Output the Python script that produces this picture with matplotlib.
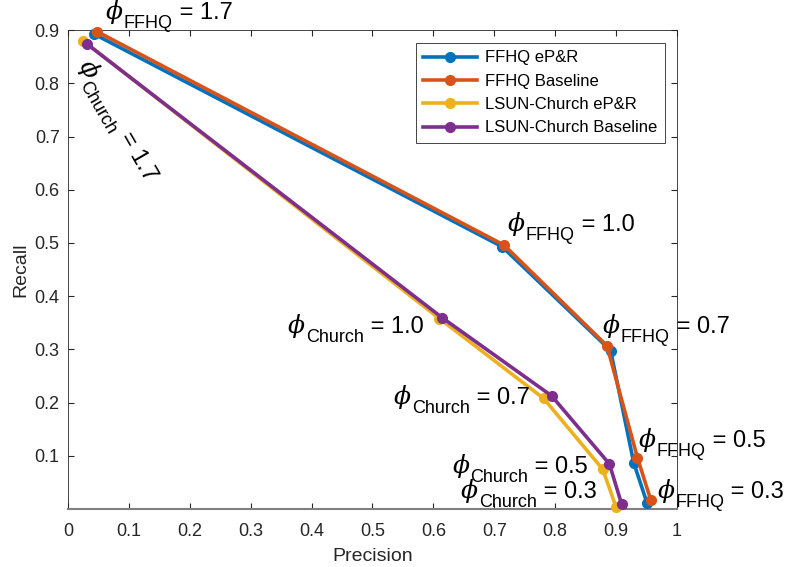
import math
import matplotlib
matplotlib.use("Agg")
import matplotlib.pyplot as plt

# precision / recall pairs for phi = 1.7, 1.0, 0.7, 0.5, 0.3
phis = ["1.7", "1.0", "0.7", "0.5", "0.3"]
ffhq_epr_p = [0.042, 0.713, 0.891, 0.929, 0.951]
ffhq_epr_r = [0.893, 0.493, 0.298, 0.087, 0.011]
ffhq_base_p = [0.048, 0.716, 0.885, 0.935, 0.957]
ffhq_base_r = [0.897, 0.496, 0.307, 0.097, 0.017]
church_epr_p = [0.025, 0.610, 0.781, 0.878, 0.900]
church_epr_r = [0.880, 0.358, 0.208, 0.075, 0.004]
church_base_p = [0.032, 0.614, 0.794, 0.889, 0.909]
church_base_r = [0.873, 0.360, 0.213, 0.085, 0.010]

labels = ["FFHQ eP&R", "FFHQ Baseline", "LSUN-Church eP&R", "LSUN-Church Baseline"]
colors = ["#0072BD", "#D95319", "#EDB120", "#7E2F8E"]

plt.rcParams["font.family"] = ["Liberation Sans", "DejaVu Sans"]
plt.rcParams["mathtext.fontset"] = "custom"
plt.rcParams["mathtext.rm"] = "Liberation Sans"
plt.rcParams["mathtext.it"] = "DejaVu Serif:italic"

fig = plt.figure(figsize=(7.87, 5.67), dpi=100)
ax = fig.add_axes([0.0864, 0.102, 0.7738, 0.845])
renderer = fig.canvas.get_renderer()

series = [(ffhq_epr_p, ffhq_epr_r), (ffhq_base_p, ffhq_base_r),
          (church_epr_p, church_epr_r), (church_base_p, church_base_r)]
for (p, r), lab, c in zip(series, labels, colors):
    ax.plot(p, r, "-o", color=c, lw=2.6, ms=7, label=lab, clip_on=False, zorder=3)

ax.set_xlim(0, 1)
ax.set_ylim(0, 0.9)
ax.set_xticks([i / 10 for i in range(11)])
ax.set_xticklabels(["0", "0.1", "0.2", "0.3", "0.4", "0.5", "0.6", "0.7", "0.8", "0.9", "1"])
ax.set_yticks([i / 10 for i in range(1, 10)])
ax.tick_params(direction="in", length=4, labelsize=13, colors="#262626", top=True, right=True)
ax.tick_params(axis="x", pad=10)
ax.tick_params(axis="y", pad=6)
for s in ax.spines.values():
    s.set_color("#262626")
    s.set_linewidth(0.6)
ax.spines["bottom"].set_color("#808080")
ax.spines["bottom"].set_linewidth(1.5)
ax.set_xlabel("Precision", fontsize=14, color="#262626", labelpad=6)
ax.set_ylabel("Recall", fontsize=14, color="#262626", labelpad=4)


def width_pt(s, size):
    t = fig.text(0, 0, s, fontsize=size)
    w = t.get_window_extent(renderer).width * 72 / fig.dpi
    t.remove()
    return w


def phi_label(x, y, sub, val, rot=0):
    # phi, big subscript, then "= val", laid out along the rotated baseline
    th = math.radians(rot)
    along = (math.cos(th), math.sin(th))
    down = (math.sin(th), -math.cos(th))
    parts = [(r"$\phi$", 18, 0), (sub, 13, 6.5), (" = " + val, 17, 0)]
    adv = 0
    for s, size, drop in parts:
        ox = along[0] * adv + down[0] * drop
        oy = along[1] * adv + down[1] * drop
        ax.annotate(s, (x, y), xytext=(ox, oy), textcoords="offset points",
                    fontsize=size, ha="left", va="baseline", rotation=rot,
                    rotation_mode="anchor", annotation_clip=False)
        adv += width_pt(s, size)


phi_label(0.061, 0.921, "FFHQ", phis[0])
phi_label(0.016, 0.835, "Church", phis[0], rot=-60)
phi_label(0.721, 0.522, "FFHQ", phis[1])
phi_label(0.877, 0.331, "FFHQ", phis[2])
phi_label(0.936, 0.117, "FFHQ", phis[3])
phi_label(0.967, 0.021, "FFHQ", phis[4])
phi_label(0.36, 0.331, "Church", phis[1])
phi_label(0.534, 0.198, "Church", phis[2])
phi_label(0.63, 0.068, "Church", phis[3])
phi_label(0.644, 0.021, "Church", phis[4])

leg = ax.legend(loc="upper right", bbox_to_anchor=(0.98, 0.973), borderaxespad=0,
                fontsize=12, fancybox=False, edgecolor="#262626", framealpha=1,
                handlelength=3.2, borderpad=0.45, labelspacing=0.5, handletextpad=0.5)
leg.get_frame().set_linewidth(0.6)

fig.savefig("out.png", dpi=100)
